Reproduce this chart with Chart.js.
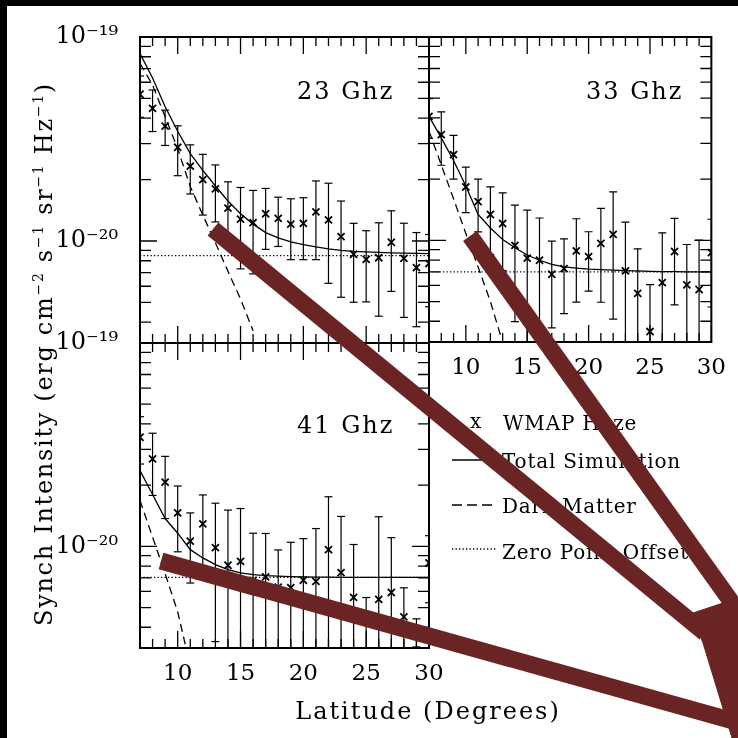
<!DOCTYPE html>
<html><head><meta charset="utf-8">
<script src="https://cdn.jsdelivr.net/npm/chart.js"></script>
<style>
html,body{margin:0;padding:0;background:#fff;}
#wrap{position:relative;width:738px;height:738px;overflow:hidden;background:#fff;font-family:'DejaVu Serif',serif;color:#000;}
canvas{position:absolute;left:0;top:0;}
.t{position:absolute;white-space:nowrap;line-height:1;}
.sup{font-size:14px;position:relative;top:-9px;}
</style></head><body>
<div id="wrap">
<canvas id="c23" width="738" height="738"></canvas>
<canvas id="c33" width="738" height="738"></canvas>
<canvas id="c41" width="738" height="738"></canvas>
<div class="t" style="font-size:24px;letter-spacing:2px;left:297px;top:79px;">23 Ghz</div>
<div class="t" style="font-size:24px;letter-spacing:2px;left:586px;top:79px;">33 Ghz</div>
<div class="t" style="font-size:24px;letter-spacing:2px;left:297px;top:413px;">41 Ghz</div>
<div class="t" style="font-size:24px;letter-spacing:2px;left:228px;width:400px;text-align:center;top:699px;">Latitude (Degrees)</div>
<div class="t" style="font-size:24px;letter-spacing:1.7px;left:-276px;width:640px;text-align:center;top:342px;transform:rotate(-90deg);">Synch Intensity (erg cm<span class="sup">−2</span> s<span class="sup">−1</span> sr<span class="sup">−1</span> Hz<span class="sup">−1</span>)</div>
<div class="t" style="font-size:20px;left:470px;top:411px;">x</div>
<div class="t" style="font-size:20px;letter-spacing:0.8px;left:503px;top:413px;">WMAP Haze</div>
<div class="t" style="font-size:20px;letter-spacing:0.8px;left:502px;top:451px;">Total Simulation</div>
<div class="t" style="font-size:20px;letter-spacing:0.8px;left:502px;top:496px;">Dark Matter</div>
<div class="t" style="font-size:20px;letter-spacing:0.8px;left:502px;top:542px;">Zero Point Offset</div>
<svg width="738" height="738" style="position:absolute;left:0;top:0;">
  <line x1="452" y1="460" x2="500" y2="460" stroke="#000" stroke-width="1.3"/>
  <line x1="452" y1="505" x2="497" y2="505" stroke="#000" stroke-width="1.3" stroke-dasharray="10,5"/>
  <line x1="452" y1="549" x2="497" y2="549" stroke="#000" stroke-width="1.3" stroke-dasharray="1.3,2.2"/>
  <g fill="#6b2424" stroke="#6b2424">
    <line x1="213" y1="229" x2="705" y2="633" stroke-width="17"/>
    <line x1="470" y1="236" x2="745" y2="621" stroke-width="17"/>
    <line x1="161" y1="561" x2="737" y2="722" stroke-width="17"/>
    <polygon points="693,613 738,598 738,738 732,738 703,643 697,628" stroke-width="1"/>
  </g>
</svg>
<div style="position:absolute;left:0;top:0;width:738px;height:6px;background:#000;"></div>
<div style="position:absolute;left:0;top:0;width:7px;height:738px;background:#000;"></div>
</div>
<script>
// ---------------- data ----------------
const latitudes = [7,8,9,10,11,12,13,14,15,16,17,18,19,20,21,22,23,24,25,26,27,28,29,30];

const haze23 = [5.24e-20,4.47e-20,3.66e-20,2.88e-20,2.33e-20,2.00e-20,1.80e-20,1.45e-20,1.28e-20,1.23e-20,1.36e-20,1.29e-20,1.21e-20,1.22e-20,1.39e-20,1.27e-20,1.05e-20,8.61e-21,8.13e-21,8.28e-21,9.86e-21,8.22e-21,7.40e-21,7.76e-21];
const err23  = [1.2e-20,1.03e-20,7.2e-21,7.9e-21,6.3e-21,6.6e-21,5.6e-21,5.0e-21,5.5e-21,5.4e-21,4.5e-21,3.5e-21,4.0e-21,4.1e-21,5.8e-21,6.5e-21,5.2e-21,3.6e-21,3.1e-21,4.0e-21,4.2e-21,4.0e-21,3.6e-21,3.0e-21];
const total23 = [8.3e-20,6.3e-20,4.55e-20,3.45e-20,2.68e-20,2.22e-20,1.86e-20,1.57e-20,1.36e-20,1.21e-20,1.10e-20,1.035e-20,9.9e-21,9.6e-21,9.35e-21,9.15e-21,9.0e-21,8.9e-21,8.85e-21,8.8e-21,8.75e-21,8.72e-21,8.7e-21,8.68e-21];
const darkLat23 = [7,8,9,10,11,12,13,14,15,16];
const dark23 = [7.43e-20,5.82e-20,4.07e-20,2.83e-20,1.85e-20,1.34e-20,9.8e-21,7.1e-21,5.2e-21,3.63e-21];
const offset23 = 8.47e-21;

const haze33 = [4.07e-20,3.31e-20,2.64e-20,1.83e-20,1.55e-20,1.34e-20,1.21e-20,9.44e-21,8.17e-21,7.98e-21,6.81e-21,7.26e-21,8.87e-21,8.32e-21,9.66e-21,1.07e-20,7.08e-21,5.48e-21,3.56e-21,6.19e-21,8.81e-21,6.04e-21,5.73e-21,8.7e-21];
const err33  = [9e-21,9.7e-21,6.4e-21,4.6e-21,4.5e-21,4.9e-21,5.0e-21,5.46e-21,5.9e-21,4.9e-21,3.1e-21,2.9e-21,3.9e-21,2.7e-21,4.7e-21,6.6e-21,5.2e-21,3.6e-21,2.5e-21,4.7e-21,4.0e-21,3.5e-21,4.3e-21,4.0e-21];
const total33 = [4.07e-20,3.19e-20,2.47e-20,1.85e-20,1.34e-20,1.15e-20,1.01e-20,9.2e-21,8.47e-21,7.98e-21,7.62e-21,7.4e-21,7.3e-21,7.22e-21,7.18e-21,7.14e-21,7.1e-21,7.07e-21,7.04e-21,7.02e-21,7.01e-21,7.0e-21,7.0e-21,7.0e-21];
const darkLat33 = [7,8,9,10,11,12,12.9];
const dark33 = [3.45e-20,2.35e-20,1.6e-20,1.08e-20,7.4e-21,5.0e-21,3.3e-21];
const offset33 = 7.0e-21;

const haze41 = [3.44e-20,2.69e-20,2.07e-20,1.46e-20,1.06e-20,1.29e-20,9.85e-21,8.07e-21,8.44e-21,6.8e-21,7.07e-21,6.3e-21,6.27e-21,6.81e-21,6.73e-21,9.63e-21,7.43e-21,5.61e-21,4.3e-21,5.48e-21,5.93e-21,4.5e-21,3.8e-21,8.28e-21];
const err41  = [9e-21,9.1e-21,7.0e-21,5.2e-21,4.0e-21,5.0e-21,6.45e-21,7.0e-21,6.9e-21,4.8e-21,4.5e-21,3.3e-21,4.2e-21,4.1e-21,5.5e-21,7.9e-21,6.6e-21,4.6e-21,1.3e-21,8.5e-21,5.1e-21,1.75e-21,0.6e-21,3.0e-21];
const total41 = [2.36e-20,1.8e-20,1.37e-20,1.16e-20,9.63e-21,8.77e-21,8.13e-21,7.69e-21,7.4e-21,7.26e-21,7.18e-21,7.13e-21,7.1e-21,7.08e-21,7.06e-21,7.05e-21,7.04e-21,7.04e-21,7.03e-21,7.03e-21,7.03e-21,7.03e-21,7.03e-21,7.03e-21];
const darkLat41 = [7,8,9,10,10.6];
const dark41 = [1.68e-20,1.11e-20,7.35e-21,4.76e-21,3.3e-21];
const offset41 = 7.03e-21;

const xTickValues = [10,15,20,25,30];
const yTickValues = [1e-19,1e-20];
const yTickLabels = ['10\u207B\u00B9\u2079','10\u207B\u00B2\u2070'];
const X_MIN = 7, X_MAX = 30;
const Y_MIN = Math.pow(10,-20.5), Y_MAX = 1e-19;

// ---------------- helpers ----------------
function errSegments(lat, val, err){
  const pts = [];
  lat.forEach((x,i)=>{
    const lo = val[i]-err[i];
    pts.push({x, y: lo > 0 ? lo : Y_MIN/10});
    pts.push({x, y: val[i]+err[i]});
    pts.push({x, y: null});
  });
  return pts;
}
function errCaps(lat, val, err){
  const pts = [];
  lat.forEach((x,i)=>{
    pts.push({x, y: val[i]+err[i]});
    const lo = val[i]-err[i];
    if (lo > 0) pts.push({x, y: lo});
  });
  return pts;
}
const xy = (xs, ys) => xs.map((x,i)=>({x, y: ys[i]}));

const framePlugin = {
  id: 'frame',
  afterDatasetsDraw(chart){
    const {ctx, chartArea:a, scales:{x, y}} = chart;
    ctx.save();
    ctx.strokeStyle = '#000';
    ctx.lineWidth = 1.3;
    ctx.beginPath();
    for (let v = Math.ceil(x.min); v <= x.max; v++){
      const px = x.getPixelForValue(v);
      const L = v % 5 === 0 ? 17 : 9;
      ctx.moveTo(px, a.top); ctx.lineTo(px, a.top + L);
      ctx.moveTo(px, a.bottom); ctx.lineTo(px, a.bottom - L);
    }
    const e0 = Math.floor(Math.log10(y.min)), e1 = Math.ceil(Math.log10(y.max));
    for (let e = e0; e <= e1; e++){
      for (let m = 1; m <= 9; m++){
        const v = m * Math.pow(10, e);
        if (v < y.min*0.999 || v > y.max*1.001) continue;
        const py = y.getPixelForValue(v);
        const L = m === 1 ? 17 : 11;
        ctx.moveTo(a.left, py); ctx.lineTo(a.left + L, py);
        ctx.moveTo(a.right, py); ctx.lineTo(a.right - L, py);
      }
    }
    ctx.stroke();
    ctx.lineWidth = 2;
    ctx.strokeRect(a.left, a.top, a.right - a.left, a.bottom - a.top);
    ctx.restore();
  }
};

Chart.defaults.font.family = "'DejaVu Serif', serif";
Chart.defaults.color = '#000';

function makePanel(id, p){
  const lineBase = {type:'line', borderColor:'#000', pointRadius:0, tension:0, clip:0, fill:false};
  new Chart(document.getElementById(id), {
    type: 'line',
    data: { datasets: [
      {...lineBase, label:'error', data: errSegments(latitudes, p.haze, p.err), borderWidth:1.2, spanGaps:false},
      {type:'scatter', label:'caps', data: errCaps(latitudes, p.haze, p.err), pointStyle:'line', pointRadius:4, borderWidth:1.2, borderColor:'#000', clip:0},
      {type:'scatter', label:'WMAP Haze', data: xy(latitudes, p.haze), pointStyle:'crossRot', pointRadius:5, borderWidth:1.8, borderColor:'#000', clip:0},
      {...lineBase, label:'Total Simulation', data: xy(latitudes, p.total), borderWidth:1.3},
      {...lineBase, label:'Dark Matter', data: xy(p.darkLat, p.dark), borderWidth:1.3, borderDash:[8,5]},
      {...lineBase, label:'Zero Point Offset', data: xy([X_MIN, X_MAX], [p.offset, p.offset]), borderWidth:1.3, borderDash:[1.3,2.2]}
    ]},
    options: {
      responsive:false, animation:false, devicePixelRatio:1, events:[],
      layout:{padding:{left:p.area.left - p.yW, top:p.area.top, right:738 - p.area.right, bottom:738 - p.area.bottom - p.xH}},
      plugins:{legend:{display:false}, tooltip:{enabled:false}, title:{display:false}},
      scales:{
        x:{type:'linear', min:X_MIN, max:X_MAX, offset:false,
           grid:{display:false, drawTicks:false}, border:{display:false},
           ticks:{display:p.xH > 0, font:{size:23}, color:'#000', padding:12, maxRotation:0, autoSkip:false},
           afterBuildTicks: s => { s.ticks = xTickValues.map(v => ({value:v})); },
           afterFit: s => { s.height = p.xH; }},
        y:{type:'logarithmic', min:Y_MIN, max:Y_MAX,
           grid:{display:false, drawTicks:false}, border:{display:false},
           ticks:{display:p.yW > 0, font:{size:24}, color:'#000', padding:22, autoSkip:false,
                  callback: v => { const i = yTickValues.findIndex(t => Math.abs(t - v)/t < 1e-6); return i >= 0 ? yTickLabels[i] : ''; }},
           afterBuildTicks: s => { s.ticks = yTickValues.map(v => ({value:v})); },
           afterFit: s => { s.width = p.yW; }}
      }
    },
    plugins:[framePlugin]
  });
}

makePanel('c23', {haze:haze23, err:err23, total:total23, darkLat:darkLat23, dark:dark23, offset:offset23,
  area:{left:140, top:37, right:429, bottom:343}, yW:120, xH:0});
makePanel('c33', {haze:haze33, err:err33, total:total33, darkLat:darkLat33, dark:dark33, offset:offset33,
  area:{left:429, top:37, right:719, bottom:342}, yW:0, xH:40});
makePanel('c41', {haze:haze41, err:err41, total:total41, darkLat:darkLat41, dark:dark41, offset:offset41,
  area:{left:140, top:343, right:429, bottom:648}, yW:120, xH:40});
</script>
</body></html>
